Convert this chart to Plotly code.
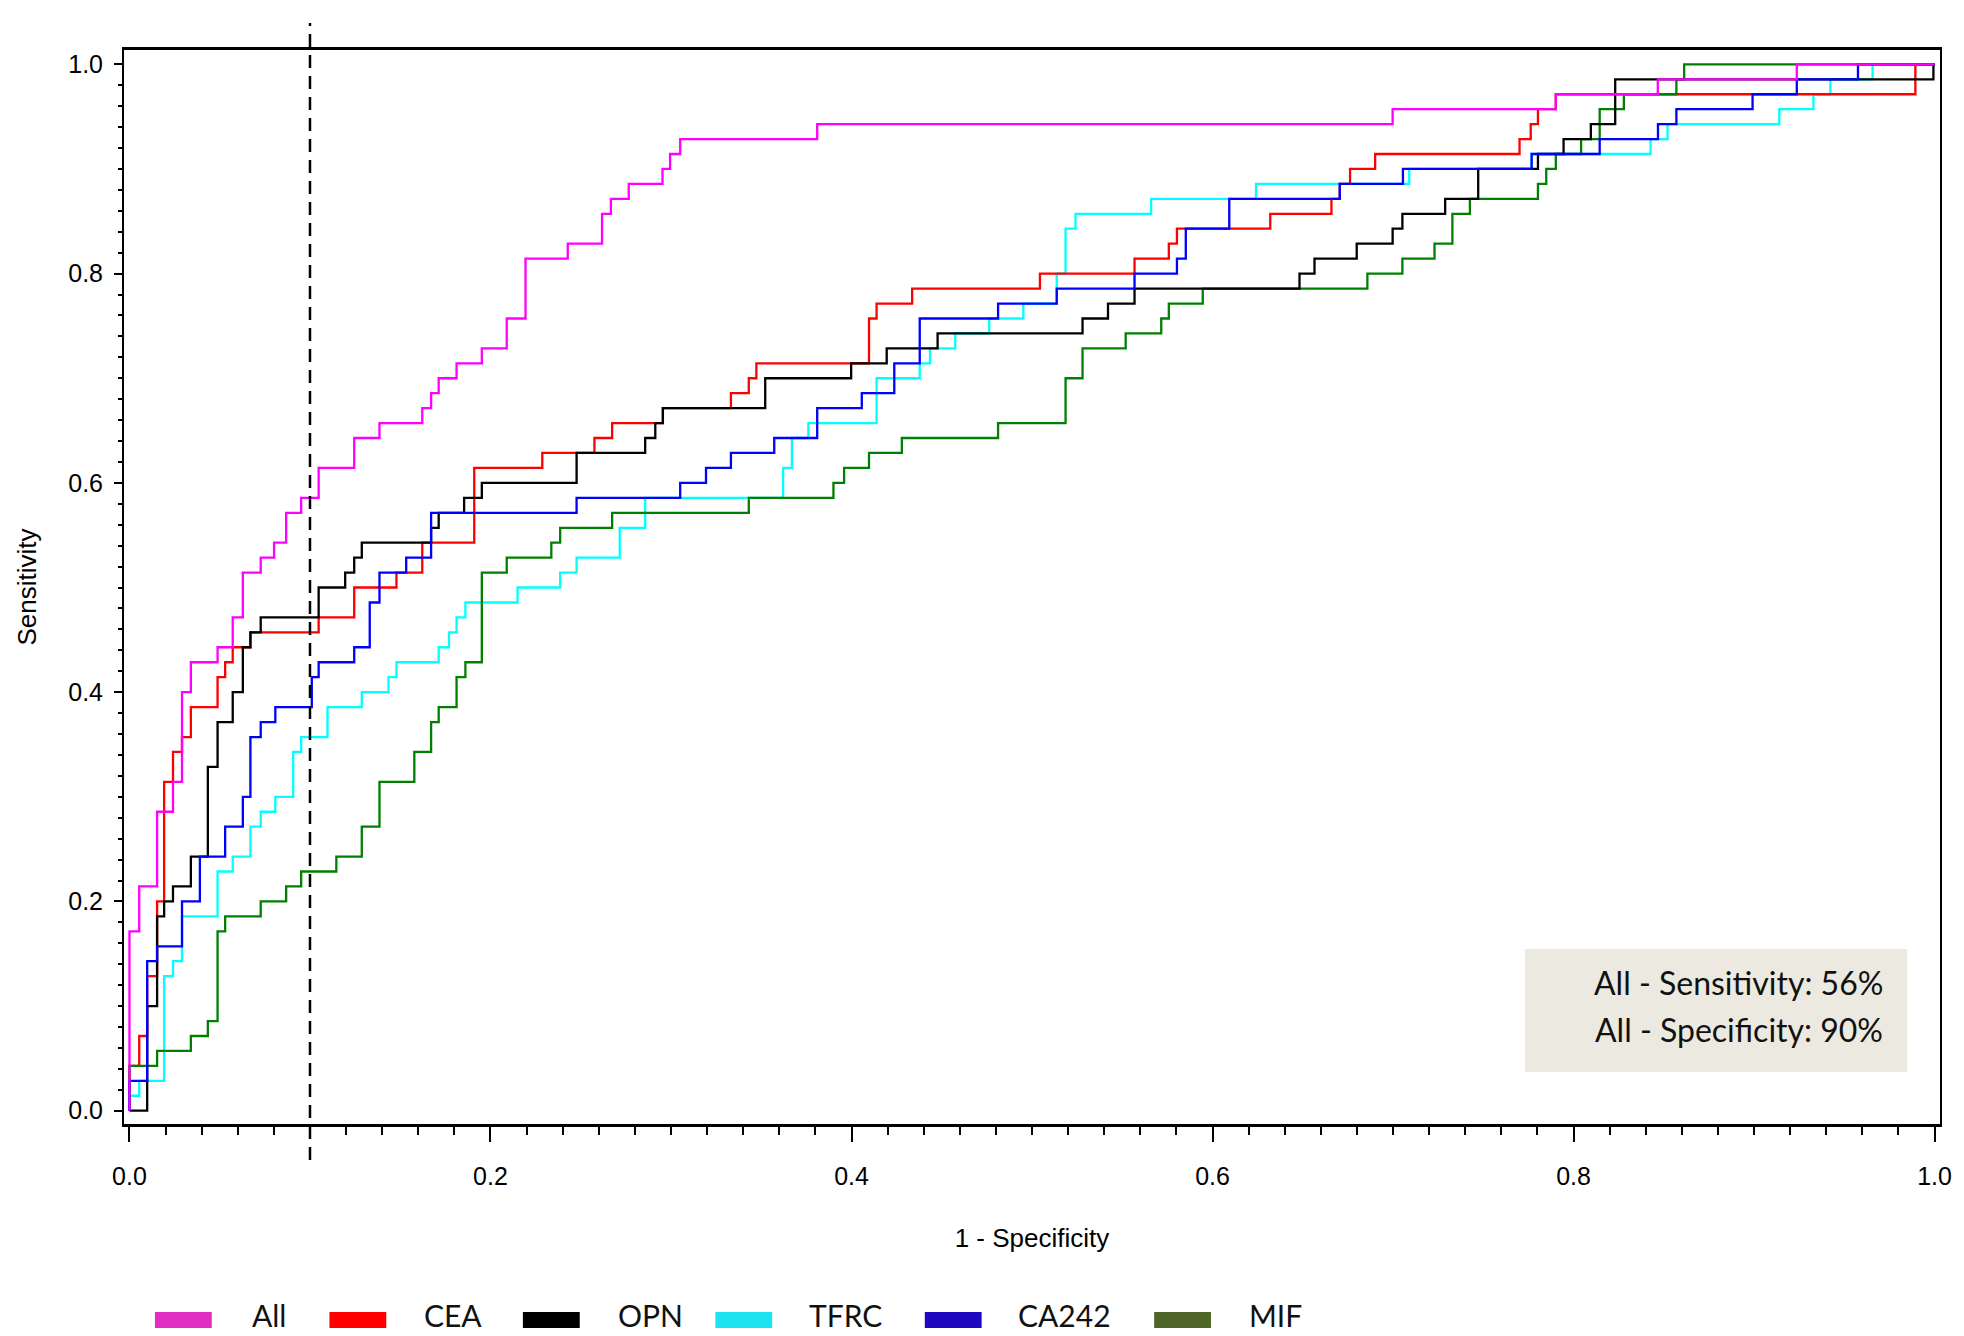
import plotly.graph_objects as go

# ---------------- data ----------------
all_fpr = [0, 0, 0.0054, 0.0153, 0.0241, 0.0291, 0.034, 0.0488, 0.0572, 0.0628, 0.0727, 0.0801,
           0.0868, 0.0951, 0.1048, 0.1245, 0.1385, 0.1622, 0.1671, 0.1713, 0.1812, 0.1952, 0.209,
           0.2194, 0.2428, 0.2618, 0.2667, 0.2766, 0.2953, 0.2995, 0.3051, 0.381, 0.6998, 0.7902,
           0.8467, 0.9237, 1.0]
all_tpr = [0, 0.1714, 0.2143, 0.2857, 0.3143, 0.4, 0.4286, 0.4429, 0.4714, 0.5143, 0.5286, 0.5429,
           0.5714, 0.5857, 0.6143, 0.6429, 0.6571, 0.6714, 0.6857, 0.7, 0.7143, 0.7286, 0.7571,
           0.8143, 0.8286, 0.8571, 0.8714, 0.8857, 0.9, 0.9143, 0.9286, 0.9429, 0.9571, 0.9714,
           0.9857, 1.0, 1.0]

cea_fpr = [0, 0, 0.0054, 0.0098, 0.0153, 0.0192, 0.0241, 0.0291, 0.034, 0.0488, 0.053, 0.0572,
           0.067, 0.1048, 0.1245, 0.1479, 0.1622, 0.191, 0.2287, 0.2576, 0.2674, 0.2955, 0.3332,
           0.3431, 0.3473, 0.4097, 0.4139, 0.4336, 0.5044, 0.5568, 0.5758, 0.5803, 0.632, 0.6659,
           0.6705, 0.6762, 0.6901, 0.7701, 0.7763, 0.7803, 0.7902, 0.9894, 1.0]
cea_tpr = [0, 0.0429, 0.0714, 0.1286, 0.2, 0.3143, 0.3429, 0.3571, 0.3857, 0.4143, 0.4286, 0.4429,
           0.4571, 0.4714, 0.5, 0.5143, 0.5429, 0.6143, 0.6286, 0.6429, 0.6571, 0.6714, 0.6857,
           0.7, 0.7143, 0.7571, 0.7714, 0.7857, 0.8, 0.8143, 0.8286, 0.8429, 0.8571, 0.8714,
           0.8857, 0.9, 0.9143, 0.9286, 0.9429, 0.9571, 0.9714, 1.0, 1.0]

opn_fpr = [0, 0.0098, 0.0153, 0.0192, 0.0241, 0.034, 0.0434, 0.0488, 0.0572, 0.0628, 0.067, 0.0727,
           0.1048, 0.1195, 0.1245, 0.1287, 0.1671, 0.1713, 0.1854, 0.1952, 0.2477, 0.2857, 0.2913,
           0.2955, 0.3522, 0.3998, 0.4195, 0.4477, 0.528, 0.5421, 0.5568, 0.6482, 0.6565, 0.6799,
           0.6998, 0.7052, 0.7289, 0.7472, 0.7803, 0.7945, 0.8096, 0.8231, 0.9994, 1.0]
opn_tpr = [0, 0.1, 0.1857, 0.2, 0.2143, 0.2429, 0.3286, 0.3714, 0.4, 0.4429, 0.4571, 0.4714,
           0.5, 0.5143, 0.5286, 0.5429, 0.5571, 0.5714, 0.5857, 0.6, 0.6286, 0.6429, 0.6571,
           0.6714, 0.7, 0.7143, 0.7286, 0.7429, 0.7571, 0.7714, 0.7857, 0.8, 0.8143, 0.8286,
           0.8429, 0.8571, 0.8714, 0.9, 0.9143, 0.9286, 0.9429, 0.9857, 1.0, 1.0]

tfrc_fpr = [0, 0, 0.0054, 0.0192, 0.0241, 0.0291, 0.0488, 0.0572, 0.067, 0.0727, 0.0808, 0.0907,
            0.0951, 0.1097, 0.1287, 0.1435, 0.1479, 0.1713, 0.177, 0.1812, 0.1861, 0.215, 0.2386,
            0.2477, 0.2716, 0.2857, 0.3621, 0.367, 0.3761, 0.4139, 0.4378, 0.4435, 0.4575, 0.4763,
            0.4952, 0.5137, 0.5186, 0.5241, 0.566, 0.6241, 0.709, 0.7768, 0.8427, 0.8521, 0.914,
            0.9329, 0.9423, 0.9657, 1.0]
tfrc_tpr = [0, 0.0143, 0.0286, 0.1286, 0.1429, 0.1857, 0.2286, 0.2429, 0.2714, 0.2857, 0.3, 0.3429,
            0.3571, 0.3857, 0.4, 0.4143, 0.4286, 0.4429, 0.4571, 0.4714, 0.4857, 0.5, 0.5143,
            0.5286, 0.5571, 0.5857, 0.6143, 0.6429, 0.6571, 0.7, 0.7143, 0.7286, 0.7429, 0.7571,
            0.7714, 0.8, 0.8429, 0.8571, 0.8714, 0.8857, 0.9, 0.9143, 0.9286, 0.9429, 0.9571,
            0.9714, 0.9857, 1.0, 1.0]

ca242_fpr = [0, 0, 0.0098, 0.0153, 0.0291, 0.039, 0.053, 0.0628, 0.067, 0.0727, 0.0808, 0.101,
             0.1048, 0.1245, 0.1331, 0.1385, 0.1533, 0.1671, 0.2477, 0.3051, 0.3194, 0.3332,
             0.3572, 0.381, 0.4057, 0.4237, 0.4378, 0.4812, 0.5137, 0.5568, 0.5803, 0.5852,
             0.6093, 0.6705, 0.7055, 0.7768, 0.8145, 0.8468, 0.857, 0.8992, 0.9237, 0.9576, 1.0]
ca242_tpr = [0, 0.0286, 0.1429, 0.1571, 0.2, 0.2429, 0.2714, 0.3, 0.3571, 0.3714, 0.3857, 0.4143,
             0.4286, 0.4429, 0.4857, 0.5143, 0.5286, 0.5714, 0.5857, 0.6, 0.6143, 0.6286,
             0.6429, 0.6714, 0.6857, 0.7143, 0.7571, 0.7714, 0.7857, 0.8, 0.8143, 0.8429,
             0.8714, 0.8857, 0.9, 0.9143, 0.9286, 0.9429, 0.9571, 0.9714, 0.9857, 1.0, 1.0]

mif_fpr = [0, 0, 0.0153, 0.034, 0.0434, 0.0488, 0.053, 0.0727, 0.0868, 0.0951, 0.1146, 0.1287,
           0.1385, 0.1578, 0.1671, 0.1713, 0.1812, 0.1861, 0.1952, 0.209, 0.2337, 0.2386, 0.2674,
           0.3431, 0.39, 0.3959, 0.4097, 0.4279, 0.4812, 0.5186, 0.528, 0.5519, 0.5716, 0.5758,
           0.5946, 0.6858, 0.7052, 0.723, 0.7329, 0.7426, 0.7803, 0.7849, 0.7902, 0.8042, 0.8145,
           0.8279, 0.857, 0.8613, 1.0]
mif_tpr = [0, 0.0429, 0.0571, 0.0714, 0.0857, 0.1714, 0.1857, 0.2, 0.2143, 0.2286, 0.2429, 0.2714,
           0.3143, 0.3429, 0.3714, 0.3857, 0.4143, 0.4286, 0.5143, 0.5286, 0.5429, 0.5571, 0.5714,
           0.5857, 0.6, 0.6143, 0.6286, 0.6429, 0.6571, 0.7, 0.7286, 0.7429, 0.7571, 0.7714,
           0.7857, 0.8, 0.8143, 0.8286, 0.8571, 0.8714, 0.8857, 0.9, 0.9143, 0.9286, 0.9571,
           0.9714, 0.9857, 1.0, 1.0]

legend_labels = ["All", "CEA", "OPN", "TFRC", "CA242", "MIF"]
legend_colors = ["#E02EC0", "#FF0000", "#000000", "#1DE2F2", "#2008C0", "#4F6628"]
line_colors = {"All": "#FF00FF", "CEA": "#FF0000", "OPN": "#000000",
               "TFRC": "#00FFFF", "CA242": "#0000FF", "MIF": "#008000"}

cutoff_fpr = 0.1
note_lines = ["All - Sensitivity: 56%", "All - Specificity: 90%"]

x_ticks = [0.0, 0.2, 0.4, 0.6, 0.8, 1.0]
y_ticks = [0.0, 0.2, 0.4, 0.6, 0.8, 1.0]

# ---------------- layout geometry ----------------
PAGE_OFFSET = 8                      # default body margin of the html page
W, H = 1964 - PAGE_OFFSET, 1336 - PAGE_OFFSET
# plot-area edges expressed in screenshot pixels
L, R, T, B = 124, 1945, 50, 1124


def px_x(px):
    return (px - L) / (R - L)


def px_y(py):
    return (B - py) / (B - T)


series = [  # drawing order bottom -> top
    ("TFRC", tfrc_fpr, tfrc_tpr),
    ("CEA", cea_fpr, cea_tpr),
    ("MIF", mif_fpr, mif_tpr),
    ("OPN", opn_fpr, opn_tpr),
    ("CA242", ca242_fpr, ca242_tpr),
    ("All", all_fpr, all_tpr),
]

fig = go.Figure()
for name, xs, ys in series:
    fig.add_trace(go.Scatter(
        x=xs, y=ys, name=name, mode="lines",
        line=dict(color=line_colors[name], width=2.3, shape="hv"),
        showlegend=False, hoverinfo="skip",
    ))

tick_font = dict(family="Liberation Sans, Arial, sans-serif", size=25, color="black")
title_font = dict(family="Liberation Sans, Arial, sans-serif", size=26, color="black")

fig.update_xaxes(
    range=[-0.00304, 1.00304], tickvals=x_ticks, ticktext=[f"{v:.1f}" for v in x_ticks],
    showgrid=False, zeroline=False, showline=True, linewidth=3, linecolor="black",
    mirror=True, ticks="outside", ticklen=15, tickwidth=2, tickcolor="black",
    tickfont=tick_font, ticklabelstandoff=13,
    minor=dict(dtick=0.02, tick0=0, ticks="outside", ticklen=8, tickwidth=1.5,
               tickcolor="black", showgrid=False),
    title=dict(text="1 - Specificity", font=title_font, standoff=40),
)
fig.update_yaxes(
    range=[-0.0127, 1.0137], tickvals=y_ticks, ticktext=[f"{v:.1f}" for v in y_ticks],
    showgrid=False, zeroline=False, showline=True, linewidth=2, linecolor="black",
    mirror=True, ticks="outside", ticklen=8, tickwidth=2, tickcolor="black",
    tickfont=tick_font, ticklabelstandoff=6,
    minor=dict(dtick=0.02, tick0=0, ticks="outside", ticklen=4.5, tickwidth=1.5,
               tickcolor="black", showgrid=False),
    title=dict(text="Sensitivity", font=title_font, standoff=24),
)

shapes = []
# vertical dashed cut-off line (extends beyond the frame)
shapes.append(dict(type="line", xref="x", yref="paper", x0=cutoff_fpr, x1=cutoff_fpr,
                   y0=px_y(1160), y1=px_y(23),
                   line=dict(color="black", width=2.5, dash="13px,8px"), layer="above"))
# note box
shapes.append(dict(type="rect", xref="paper", yref="paper",
                   x0=px_x(1529), x1=px_x(1912), y0=px_y(1072), y1=px_y(949),
                   fillcolor="#ECEAE0", line=dict(width=0), layer="below"))

annotations = []
note_font = dict(family="Lato, Open Sans, sans-serif", size=32, color="#111111")
for txt, py in zip(note_lines, [983, 1029]):
    annotations.append(dict(text=txt, xref="paper", yref="paper", x=px_x(1890), y=px_y(py),
                            xanchor="right", yanchor="middle", showarrow=False, font=note_font))

# legend drawn below the plot
swatch_x = [155, 330, 524, 717, 927, 1157]
text_x = [251, 424, 618, 810, 1019, 1251]
legend_font = dict(family="Lato, Open Sans, sans-serif", size=30, color="#111111")
for lab, col, sx, tx in zip(legend_labels, legend_colors, swatch_x, text_x):
    shapes.append(dict(type="rect", xref="paper", yref="paper",
                       x0=px_x(sx), x1=px_x(sx + 57), y0=px_y(1328), y1=px_y(1312),
                       fillcolor=col, line=dict(width=0)))
    annotations.append(dict(text=lab, xref="paper", yref="paper", x=px_x(tx), y=px_y(1334),
                            xanchor="left", yanchor="bottom", showarrow=False, borderpad=0,
                            font=legend_font))

fig.update_layout(
    width=W, height=H, autosize=False,
    margin=dict(l=L - PAGE_OFFSET, r=W - (R - PAGE_OFFSET), t=T - PAGE_OFFSET,
                b=H - (B - PAGE_OFFSET), pad=0),
    paper_bgcolor="white", plot_bgcolor="white",
    shapes=shapes, annotations=annotations, showlegend=False,
)

fig.write_html("out.html", config={"displayModeBar": False})
